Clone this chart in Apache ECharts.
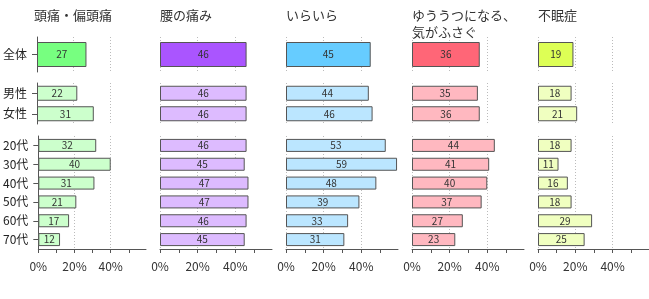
<!DOCTYPE html>
<html><head><meta charset="utf-8">
<script src="https://cdn.jsdelivr.net/npm/echarts@6/dist/echarts.min.js"></script>
<style>html,body{margin:0;padding:0;background:#fff}#c{width:649px;height:299px}</style>
</head><body><div id="c"></div>
<script>
const titles = ['頭痛・偏頭痛', '腰の痛み', 'いらいら', 'ゆううつになる、\n気がふさぐ', '不眠症'];
const catFull = ['全体'];
const catGender = ['男性', '女性'];
const catAge = ['20代', '30代', '40代', '50代', '60代', '70代'];
const fullValues = [27, 46, 45, 36, 19];
const genderValues = [[22, 31], [46, 46], [44, 46], [35, 36], [18, 21]];
const ageValues = [
  [32, 40, 31, 21, 17, 12],
  [46, 45, 47, 47, 46, 45],
  [53, 59, 48, 39, 33, 31],
  [44, 41, 40, 37, 27, 23],
  [18, 11, 16, 18, 29, 25]
];
const tickValues = [0, 10, 20, 30, 40, 50];
const labelValues = [0, 20, 40];
const darkColors = ['#77FF80', '#AA55FF', '#66CCFF', '#FF6677', '#DDFF55'];
const lightColors = ['#CCFFCC', '#DDBBFF', '#BBE6FF', '#FFB8C0', '#F0FFC0'];

const FONT = '"Noto Sans CJK JP", "Noto Sans", sans-serif';
const panelX = i => 34 + 126 * i;
const PW = 112, XMAX = 59.5;
const blocks = [
  {top: 37, height: 35, cats: catFull, barW: 25},
  {top: 83, height: 41, cats: catGender, barW: 15},
  {top: 136, height: 113, cats: catAge, barW: 13}
];

const grid = [], xAxis = [], yAxis = [], series = [], title = [];
titles.forEach((t, i) => {
  title.push({text: t, left: panelX(i), top: 7, padding: 0,
    textStyle: {fontFamily: FONT, fontSize: 13, fontWeight: 'normal', color: '#333', lineHeight: 17}});
  blocks.forEach((b, bi) => {
    const g = grid.length;
    grid.push({left: panelX(i), top: b.top, width: PW, height: b.height});
    const isAge = bi === 2;
    xAxis.push({type: 'value', gridIndex: g, min: 0, max: XMAX, show: isAge, position: 'bottom',
      axisLine: {show: true, lineStyle: {color: '#555', width: 1}},
      axisTick: {show: true, length: 4, customValues: tickValues, lineStyle: {color: '#555'}},
      axisLabel: {show: true, customValues: labelValues, formatter: '{value}%', margin: 11,
        fontFamily: FONT, fontSize: 12, color: '#333'},
      splitLine: {show: false}});
    xAxis.push({type: 'value', gridIndex: g, min: 0, max: XMAX, interval: 20, position: 'top',
      axisLine: {show: false}, axisTick: {show: false}, axisLabel: {show: false},
      splitLine: {show: true, showMaxLine: false, lineStyle: {color: '#bbb', type: [1, 2], width: 1}}});
    yAxis.push({type: 'category', gridIndex: g, data: b.cats, inverse: true,
      axisLine: {show: i === 0, lineStyle: {color: '#555', width: 1}},
      axisTick: {show: i === 0, length: 5, alignWithLabel: true, lineStyle: {color: '#555'}},
      axisLabel: {show: i === 0, margin: 10, fontFamily: FONT, fontSize: 12, color: '#222'},
      splitLine: {show: false}});
    const vals = bi === 0 ? [fullValues[i]] : (bi === 1 ? genderValues[i] : ageValues[i]);
    series.push({type: 'bar', xAxisIndex: 2 * g, yAxisIndex: g, data: vals, barWidth: b.barW,
      itemStyle: {color: bi === 0 ? darkColors[i] : lightColors[i], borderColor: '#555', borderWidth: 1},
      label: {show: true, position: 'inside', fontFamily: FONT, fontSize: 10, color: '#333'},
      silent: true, animation: false});
  });
});

const chart = echarts.init(document.getElementById('c'));
chart.setOption({animation: false, title, grid, xAxis, yAxis, series});
</script></body></html>
